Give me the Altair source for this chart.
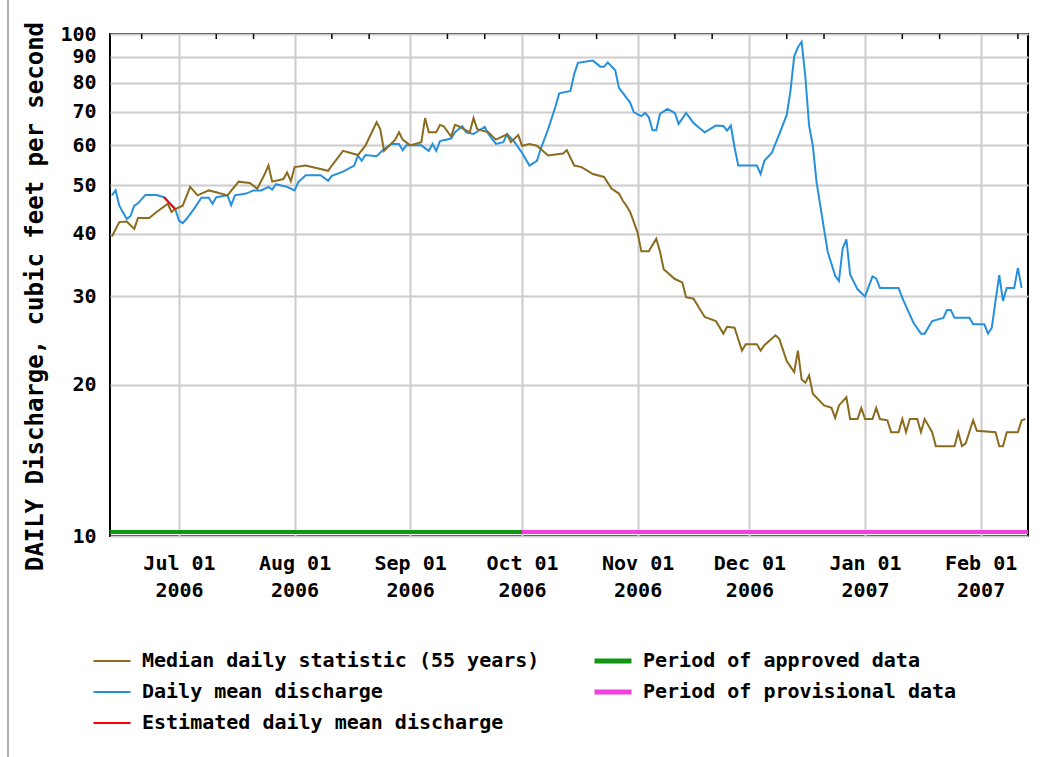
import altair as alt
import pandas as pd

FONT = "DejaVu Sans Mono"

# ---- series values (cubic feet per second) ----
median_dates = [
    "2006-06-13", "2006-06-15", "2006-06-17", "2006-06-19", "2006-06-20", "2006-06-23",
    "2006-06-25", "2006-06-28", "2006-06-29", "2006-06-30", "2006-07-02", "2006-07-04",
    "2006-07-06", "2006-07-09", "2006-07-11", "2006-07-14", "2006-07-17", "2006-07-20",
    "2006-07-22", "2006-07-24", "2006-07-25", "2006-07-26", "2006-07-29", "2006-07-30",
    "2006-07-31", "2006-08-01", "2006-08-04", "2006-08-10", "2006-08-11", "2006-08-14",
    "2006-08-18", "2006-08-20", "2006-08-23", "2006-08-24", "2006-08-25", "2006-08-28",
    "2006-08-29", "2006-08-30", "2006-09-01", "2006-09-04", "2006-09-05", "2006-09-06",
    "2006-09-08", "2006-09-09", "2006-09-10", "2006-09-12", "2006-09-13", "2006-09-14",
    "2006-09-17", "2006-09-18", "2006-09-19", "2006-09-22", "2006-09-24", "2006-09-27",
    "2006-09-28", "2006-09-30", "2006-10-01", "2006-10-03", "2006-10-05", "2006-10-08",
    "2006-10-12", "2006-10-13", "2006-10-15", "2006-10-17", "2006-10-20", "2006-10-23",
    "2006-10-25", "2006-10-27", "2006-10-28", "2006-10-29", "2006-10-30", "2006-10-31",
    "2006-11-01", "2006-11-02", "2006-11-04", "2006-11-06", "2006-11-07", "2006-11-08",
    "2006-11-11", "2006-11-13", "2006-11-14", "2006-11-16", "2006-11-19", "2006-11-22",
    "2006-11-24", "2006-11-25", "2006-11-27", "2006-11-29", "2006-11-30", "2006-12-03",
    "2006-12-04", "2006-12-05", "2006-12-08", "2006-12-09", "2006-12-11", "2006-12-13",
    "2006-12-14", "2006-12-15", "2006-12-16", "2006-12-17", "2006-12-18", "2006-12-21",
    "2006-12-23", "2006-12-24", "2006-12-25", "2006-12-27", "2006-12-28", "2006-12-30",
    "2006-12-31", "2007-01-01", "2007-01-03", "2007-01-04", "2007-01-05", "2007-01-07",
    "2007-01-08", "2007-01-10", "2007-01-11", "2007-01-12", "2007-01-13", "2007-01-15",
    "2007-01-16", "2007-01-17", "2007-01-19", "2007-01-20", "2007-01-25", "2007-01-26",
    "2007-01-27", "2007-01-28", "2007-01-30", "2007-01-31", "2007-02-05", "2007-02-06",
    "2007-02-07", "2007-02-08", "2007-02-11", "2007-02-12", "2007-02-13",
]
median_cfs = [
    39.5, 42.2, 42.3, 40.9, 43.0, 43.0,
    44.2, 45.9, 44.2, 44.8, 45.5, 49.6,
    47.7, 48.8, 48.4, 47.7, 50.8, 50.5,
    49.2, 52.6, 54.7, 50.8, 51.4, 53.0,
    50.9, 54.3, 54.7, 53.4, 54.7, 58.5,
    57.4, 59.9, 66.7, 64.6, 58.5, 61.6,
    63.7, 61.6, 60.0, 60.9, 68.0, 63.7,
    63.7, 65.9, 65.5, 62.5, 65.9, 65.5,
    63.7, 68.0, 64.6, 63.7, 61.6, 63.1,
    60.9, 62.9, 59.9, 60.4, 59.9, 57.3,
    57.8, 58.7, 54.7, 54.3, 52.6, 51.9,
    49.2, 48.1, 46.6, 45.5, 44.2, 42.2,
    40.2, 36.9, 36.9, 39.1, 36.9, 34.0,
    32.5, 32.0, 29.9, 29.7, 27.3, 26.8,
    25.3, 26.1, 26.0, 23.4, 24.1, 24.1,
    23.4, 24.0, 25.1, 24.7, 22.3, 21.2,
    23.4, 20.5, 20.2, 20.9, 19.2, 18.2,
    18.0, 17.2, 18.2, 18.9, 17.1, 17.1,
    18.0, 17.1, 17.1, 18.0, 17.1, 17.0,
    16.1, 16.1, 17.1, 16.1, 17.1, 17.1,
    16.1, 17.1, 16.1, 15.1, 15.1, 16.1,
    15.1, 15.3, 17.0, 16.2, 16.1, 15.1,
    15.1, 16.1, 16.1, 17.0, 17.1,
]

daily_dates = [
    "2006-06-13", "2006-06-14", "2006-06-15", "2006-06-16", "2006-06-17", "2006-06-18",
    "2006-06-19", "2006-06-20", "2006-06-22", "2006-06-25", "2006-06-27", "2006-06-30",
    "2006-07-01", "2006-07-02", "2006-07-03", "2006-07-05", "2006-07-07", "2006-07-09",
    "2006-07-10", "2006-07-11", "2006-07-14", "2006-07-15", "2006-07-16", "2006-07-19",
    "2006-07-21", "2006-07-23", "2006-07-25", "2006-07-26", "2006-07-27", "2006-07-30",
    "2006-08-01", "2006-08-02", "2006-08-04", "2006-08-08", "2006-08-10", "2006-08-11",
    "2006-08-14", "2006-08-17", "2006-08-18", "2006-08-19", "2006-08-20", "2006-08-23",
    "2006-08-25", "2006-08-27", "2006-08-29", "2006-08-30", "2006-08-31", "2006-09-04",
    "2006-09-06", "2006-09-07", "2006-09-08", "2006-09-09", "2006-09-12", "2006-09-13",
    "2006-09-15", "2006-09-16", "2006-09-18", "2006-09-21", "2006-09-22", "2006-09-24",
    "2006-09-26", "2006-09-27", "2006-09-29", "2006-10-01", "2006-10-03", "2006-10-05",
    "2006-10-06", "2006-10-08", "2006-10-10", "2006-10-11", "2006-10-14", "2006-10-15",
    "2006-10-16", "2006-10-20", "2006-10-22", "2006-10-23", "2006-10-24", "2006-10-26",
    "2006-10-27", "2006-10-30", "2006-10-31", "2006-11-02", "2006-11-03", "2006-11-04",
    "2006-11-05", "2006-11-06", "2006-11-07", "2006-11-09", "2006-11-11", "2006-11-12",
    "2006-11-14", "2006-11-16", "2006-11-18", "2006-11-19", "2006-11-22", "2006-11-24",
    "2006-11-25", "2006-11-26", "2006-11-27", "2006-11-28", "2006-12-03", "2006-12-04",
    "2006-12-05", "2006-12-07", "2006-12-09", "2006-12-11", "2006-12-12", "2006-12-13",
    "2006-12-14", "2006-12-15", "2006-12-16", "2006-12-17", "2006-12-18", "2006-12-19",
    "2006-12-20", "2006-12-21", "2006-12-22", "2006-12-24", "2006-12-25", "2006-12-26",
    "2006-12-27", "2006-12-28", "2006-12-30", "2007-01-01", "2007-01-03", "2007-01-04",
    "2007-01-05", "2007-01-10", "2007-01-11", "2007-01-13", "2007-01-14", "2007-01-16",
    "2007-01-17", "2007-01-19", "2007-01-22", "2007-01-23", "2007-01-24", "2007-01-25",
    "2007-01-29", "2007-01-30", "2007-02-02", "2007-02-03", "2007-02-04", "2007-02-05",
    "2007-02-06", "2007-02-07", "2007-02-08", "2007-02-10", "2007-02-11", "2007-02-12",
]
daily_cfs = [
    47.7, 48.8, 45.5, 44.1, 42.8, 43.4,
    45.5, 46.0, 47.8, 47.8, 47.3, 44.8,
    42.5, 42.0, 42.8, 44.8, 47.2, 47.2,
    45.9, 47.3, 47.7, 45.6, 47.7, 48.1,
    48.8, 48.8, 49.6, 49.0, 50.2, 49.6,
    48.8, 50.7, 52.3, 52.3, 51.0, 52.2,
    53.2, 54.7, 57.3, 55.9, 57.4, 57.1,
    59.0, 60.4, 60.4, 58.7, 60.0, 60.0,
    58.5, 60.4, 58.5, 61.2, 61.9, 63.7,
    65.5, 63.7, 63.2, 65.3, 63.2, 60.4,
    60.9, 63.2, 60.9, 58.0, 54.7, 55.9,
    59.0, 64.6, 71.8, 76.2, 77.0, 83.2,
    87.6, 88.5, 86.1, 86.1, 87.8, 84.7,
    78.1, 73.0, 69.8, 68.6, 69.6, 68.3,
    64.3, 64.3, 69.3, 70.9, 69.6, 66.2,
    69.6, 66.5, 64.6, 63.7, 65.7, 65.6,
    64.2, 65.7, 59.5, 54.7, 54.7, 52.6,
    55.9, 58.0, 63.2, 69.0, 77.0, 90.2,
    94.1, 96.5, 82.0, 65.7, 59.9, 50.7,
    45.5, 40.9, 36.8, 33.0, 32.2, 37.4,
    39.0, 33.2, 31.0, 30.0, 32.9, 32.6,
    31.2, 31.2, 29.8, 27.6, 26.6, 25.3,
    25.3, 26.8, 27.2, 28.2, 28.2, 27.2,
    27.2, 26.4, 26.4, 25.3, 26.0, 29.4,
    33.1, 29.4, 31.2, 31.2, 34.2, 31.2,
]

estimated_dates = ["2006-06-27", "2006-06-28", "2006-06-29", "2006-06-30"]
estimated_cfs = [47.3, 46.4, 45.6, 44.8]

# data-quality periods shown along the bottom of the plot
period_names = ["Period of approved data", "Period of provisional data"]
period_start = ["2006-06-12", "2006-10-01"]
period_end = ["2006-10-01", "2007-02-14"]

# axis tick positions
month_ticks = [(2006, 7), (2006, 8), (2006, 9), (2006, 10), (2006, 11), (2006, 12), (2007, 1), (2007, 2)]
minor_tick_dates = [
    "2006-06-21", "2006-07-11", "2006-07-21", "2006-08-11", "2006-08-21", "2006-09-11",
    "2006-09-21", "2006-10-11", "2006-10-21", "2006-11-11", "2006-11-21", "2006-12-11",
    "2006-12-21", "2007-01-11", "2007-01-21", "2007-02-11",
]
y_ticks = [10, 20, 30, 40, 50, 60, 70, 80, 90, 100]

MED = "Median daily statistic (55 years)"
DAY = "Daily mean discharge"
EST = "Estimated daily mean discharge"
APP, PRO = period_names

# legend fills column by column: three line series, then the two periods
legend_order = [MED, DAY, EST, APP, PRO]
legend_colors = ["#8b6b1e", "#2690dc", "#ff0000", "#129612", "#f23fe0"]

W, H = 918, 502

median_df = pd.DataFrame({"date": median_dates, "cfs": median_cfs, "series": MED})
daily_df = pd.DataFrame({"date": daily_dates, "cfs": daily_cfs, "series": DAY})
est_df = pd.DataFrame({"date": estimated_dates, "cfs": estimated_cfs, "series": EST})
period_df = pd.DataFrame({"start": period_start, "end": period_end, "series": period_names})
minor_df = pd.DataFrame({"date": minor_tick_dates})

x_scale = alt.Scale(
    type="utc",
    domain=[
        alt.DateTime(year=2006, month=6, date=12, hours=12, utc=True),
        alt.DateTime(year=2007, month=2, date=13, hours=17, utc=True),
    ],
)
y_scale = alt.Scale(type="log", domain=[10, 100])

x_axis = alt.Axis(
    values=[alt.DateTime(year=y, month=m, date=1, utc=True) for y, m in month_ticks],
    labelExpr="[utcFormat(datum.value, '%b %d'), utcFormat(datum.value, '%Y')]",
    labelFont=FONT, labelFontSize=20, labelFontWeight="bold", labelColor="black",
    labelLineHeight=27, labelPadding=17, labelOverlap=False, labelFlush=False,
    ticks=False, domain=False, grid=True, gridColor="#cccccc", gridWidth=2,
    title=None,
)
y_axis = alt.Axis(
    values=y_ticks, format="d",
    labelFont=FONT, labelFontSize=20, labelFontWeight="bold", labelColor="black",
    labelPadding=14, labelOverlap=False, labelFlush=False,
    ticks=False, domain=False, grid=True, gridColor="#cccccc", gridWidth=2,
    title="DAILY Discharge, cubic feet per second",
    titleFont=FONT, titleFontSize=24, titleFontWeight="bold", titleColor="black",
    titleX=-75, titleY=262, titleAngle=270, titleAlign="center", titleBaseline="middle",
)

color_enc = alt.Color(
    "series:N",
    scale=alt.Scale(domain=legend_order, range=legend_colors),
    legend=alt.Legend(
        title=None, orient="none", legendX=-8, legendY=617, columns=2,
        columnPadding=44, rowPadding=11, padding=0,
        symbolType="stroke", symbolSize=1369,
        symbolStrokeWidth=alt.ExprRef(
            expr="(datum.value === 'Period of approved data' || datum.value === 'Period of provisional data') ? 5 : 2"
        ),
        labelFont=FONT, labelFontSize=20, labelFontWeight="bold", labelColor="black",
        labelOffset=20, labelLimit=700,
    ),
)


def series_line(df):
    return alt.Chart(df).mark_line(strokeWidth=2, clip=True).encode(
        x=alt.X("date:T", scale=x_scale, axis=x_axis),
        y=alt.Y("cfs:Q", scale=y_scale, axis=y_axis),
        color=color_enc,
    )


periods = alt.Chart(period_df).mark_rule(strokeWidth=4, clip=True).encode(
    x=alt.X("start:T", scale=x_scale, axis=x_axis),
    x2="end:T",
    y=alt.value(H - 4),
    color=color_enc,
)

minor_ticks = alt.Chart(minor_df).mark_rule(color="black", strokeWidth=1.5).encode(
    x=alt.X("date:T", scale=x_scale, axis=x_axis),
    y=alt.value(0),
    y2=alt.value(5),
)

page_edge = alt.Chart(pd.DataFrame({"k": [0]})).mark_rule(color="#b0b0b0", strokeWidth=2).encode(
    x=alt.value(-102), y=alt.value(-34), y2=alt.value(757 - 34),
)

chart = (
    alt.layer(series_line(daily_df), series_line(median_df), series_line(est_df), periods, minor_ticks, page_edge)
    .properties(
        width=W, height=H,
        autosize=alt.AutoSizeParams(type="none"),
        padding={"left": 110, "top": 34, "right": 1060 - 110 - W, "bottom": 757 - 34 - H},
        background="white",
    )
    .configure_view(stroke="black", strokeWidth=2)
)

chart.save("out.html", embed_options={"renderer": "svg", "actions": False})
